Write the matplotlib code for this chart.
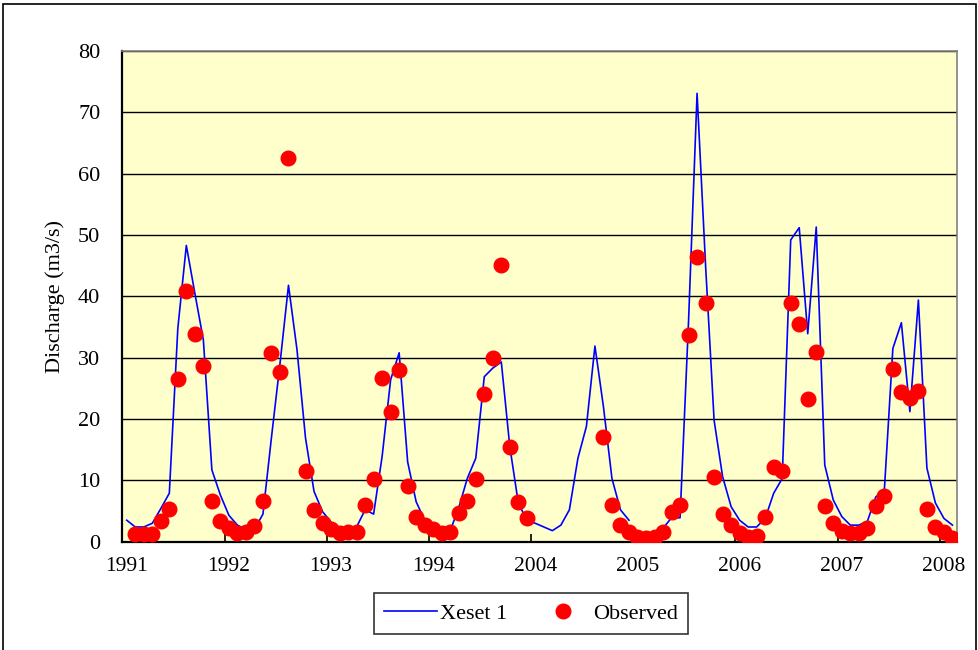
import numpy as np
import matplotlib
matplotlib.use("Agg")
import matplotlib.pyplot as plt
from matplotlib.patches import Rectangle

nan = np.nan

# monthly index (98 months), labels every 12 months
year_labels = ["1991", "1992", "1993", "1994", "2004", "2005", "2006", "2007", "2008"]

# simulated discharge (Xeset 1), m3/s
simulated = [
    3.5, 2.4, 2.4, 3.0, 5.4, 7.9, 34.8, 48.3, 40.5, 32.9, 11.7, 7.6,
    4.3, 2.7, 2.0, 2.0, 4.5, 17.0, 29.0, 41.8, 31.3, 16.9, 8.2, 4.9,
    3.2, 1.6, 1.4, 2.4, 5.2, 4.5, 13.9, 26.4, 30.8, 13.0, 6.5, 3.5,
    2.2, 1.6, 1.8, 5.5, 10.3, 13.6, 26.9, 28.3, 29.3, 15.5, 6.3, 3.5,
    3.0, 2.4, 1.8, 2.7, 5.2, 13.6, 18.8, 31.9, 22.0, 10.3, 5.2, 3.5,
    nan, nan, nan, 2.2, 3.9, 3.9, 36.0, 73.1, 45.0, 19.8, 10.6, 5.7,
    3.5, 2.4, 2.4, 3.8, 7.9, 10.3, 49.2, 51.2, 33.9, 51.3, 12.5, 6.8,
    4.1, 2.7, 2.7, 3.3, 7.3, 8.4, 31.5, 35.7, 21.2, 39.4, 12.0, 6.3,
    3.8, 2.7,
]

# observed discharge, m3/s
observed = [
    nan, 1.2, 1.2, 1.2, 3.3, 5.3, 26.6, 40.9, 33.9, 28.6, 6.6, 3.3,
    2.2, 1.4, 1.5, 2.6, 6.6, 30.8, 27.6, 62.6, nan, 11.5, 5.2, 3.0,
    2.0, 1.4, 1.5, 1.6, 6.0, 10.2, 26.7, 21.2, 28.0, 9.0, 4.0, 2.7,
    2.0, 1.4, 1.6, 4.6, 6.7, 10.2, 24.0, 30.0, 45.1, 15.5, 6.5, 3.8,
    nan, nan, nan, nan, nan, nan, nan, nan, 17.0, 6.0, 2.7, 1.5,
    0.8, 0.6, 0.7, 1.5, 4.9, 6.0, 33.7, 46.4, 38.9, 10.5, 4.5, 2.7,
    1.4, 0.8, 1.0, 4.0, 12.2, 11.5, 38.9, 35.5, 23.3, 30.9, 5.8, 3.0,
    1.8, 1.4, 1.4, 2.2, 5.8, 7.5, 28.1, 24.4, 23.5, 24.6, 5.3, 2.4,
    1.5, 0.6,
]

plt.rcParams["font.family"] = ["Liberation Serif", "DejaVu Serif"]

W, H = 979, 650
fig = plt.figure(figsize=(W / 100, H / 100), dpi=100, facecolor="white")
ax = fig.add_axes([122.5 / W, 1 - 541.7 / H, (956.7 - 122.5) / W, (541.7 - 51) / H])
ax.set_facecolor("#FFFFCC")

months = np.arange(len(simulated))
ax.plot(months, simulated, color="#0000FF", linewidth=1.2, label="Xeset 1", zorder=3)
ax.plot(months, observed, linestyle="none", marker="o", markersize=10.5,
        markerfacecolor="#FF0000", markeredgecolor="#FF0000", label="Observed", zorder=4)

ax.set_xlim(-0.5, len(simulated) - 0.5)
ax.set_ylim(0, 80)
ax.set_yticks(np.arange(0, 81, 10))
ax.yaxis.grid(True, color="black", linewidth=1.0)
ax.set_axisbelow(True)

# tick marks between categories, labels centred on the first month of each year
label_pos = np.arange(0, len(simulated), 12)
ax.set_xticks(label_pos - 0.5)
ax.set_xticklabels([])
ax.set_xticks(label_pos, minor=True)
ax.set_xticklabels(year_labels, minor=True)
ax.tick_params(axis="x", which="major", direction="in", length=6, width=1.2, color="black")
ax.tick_params(axis="x", which="minor", length=0, pad=11, labelsize=15.5)
ax.tick_params(axis="y", which="major", length=0, pad=16, labelsize=16)

for side in ["left", "bottom"]:
    ax.spines[side].set_color("black")
    ax.spines[side].set_linewidth(1.6)
for side in ["top", "right"]:
    ax.spines[side].set_color("#808080")
    ax.spines[side].set_linewidth(1.2)

ax.set_ylabel("Discharge (m3/s)", fontsize=16)
ax.yaxis.set_label_coords(-0.069, 0.5)

leg = fig.legend(loc="center", bbox_to_anchor=(531 / W, 1 - 613.5 / H), ncol=2,
                 fontsize=16, frameon=True, fancybox=False, edgecolor="black",
                 handlelength=2.4, handletextpad=0.15, columnspacing=1.3,
                 borderpad=0.45, numpoints=1)
leg.get_frame().set_linewidth(1.2)

# outer chart border
fig.patches.append(Rectangle((3 / W, -0.01), (976 - 3) / W, 1.01 - 4 / H,
                             transform=fig.transFigure, fill=False,
                             edgecolor="black", linewidth=1.2))

plt.savefig("out.png", dpi=100, facecolor="white")
